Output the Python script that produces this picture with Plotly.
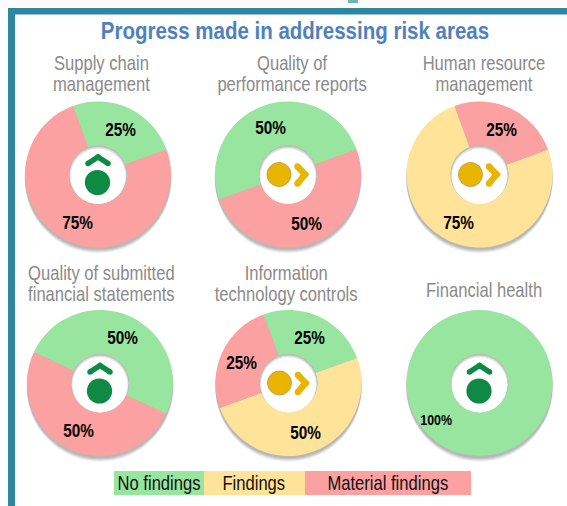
import plotly.graph_objects as go

W, H = 567, 506
TITLE = "Progress made in addressing risk areas"
names = ["Supply chain<br>management", "Quality of<br>performance reports", "Human resource<br>management",
         "Quality of submitted<br>financial statements", "Information<br>technology controls", "Financial health"]
categories = ["No findings", "Findings", "Material findings"]
no_findings = [25, 50, 0, 50, 25, 100]
findings = [0, 0, 75, 0, 50, 0]
material = [75, 50, 25, 50, 25, 0]
icons = ["up", "right", "right", "up", "right", "up"]
colors = ["#98E59F", "#FFE399", "#FBA1A1"]

centers = [(98, 174.5), (288, 174.5), (479.5, 174.5), (100, 383), (288.5, 383), (479.5, 383)]
rotations = [340, 250, 70, 295, 340, 0]
name_y = [76, 76, 76, 285.5, 285.5, 290]
name_x = [101, 292, 484, 101, 286, 484]
# label pixel positions (index by series: no findings, findings, material)
label_pos = [
    {0: (120, 129), 2: (77, 222)},
    {0: (270, 127), 2: (306, 223)},
    {2: (501, 129), 1: (458, 222)},
    {0: (122, 337), 2: (78, 430)},
    {0: (309, 337), 1: (305, 432), 2: (241, 362)},
    {0: (436, 419)},
]
legend_edges = [114, 204, 305, 471]
R, HOLE = 73, 29
NARROW = "Liberation Sans, Arial, sans-serif"
GREEN, GOLD = "#0E8A45", "#E9B500"


def px(x):
    return x / W


def py(y):
    return 1 - y / H


shapes, annotations, traces = [], [], []


def circle(cx, cy, r, fill, layer="above", opacity=1, line=None, lw=0):
    shapes.append(dict(type="circle", xref="paper", yref="paper", layer=layer, opacity=opacity,
                       x0=px(cx - r), x1=px(cx + r), y0=py(cy + r), y1=py(cy - r),
                       fillcolor=fill, line=dict(width=lw, color=line or fill)))


def rect(x0, y0, x1, y1, fill, layer="below"):
    shapes.append(dict(type="rect", xref="paper", yref="paper", layer=layer,
                       x0=px(x0), x1=px(x1), y0=py(y1), y1=py(y0),
                       fillcolor=fill, line=dict(width=0)))


def chevron(points, color, width):
    path = "M" + " L".join(f"{px(x):.5f},{py(y):.5f}" for x, y in points)
    shapes.append(dict(type="path", path=path, xref="paper", yref="paper", layer="above",
                       line=dict(color=color, width=width), fillcolor="rgba(0,0,0,0)"))
    for x, y in points:
        circle(x, y, width / 2, color)


def text(x, y, s, size, color, bold=False):
    annotations.append(dict(x=px(x), y=py(y), xref="paper", yref="paper", text=f"<b>{s}</b>" if bold else s,
                            showarrow=False, align="center", xanchor="center", yanchor="middle",
                            font=dict(family=NARROW, size=size, color=color)))


# page frame
rect(0, 0, 567, 8, "#FCFCFC")
rect(8, 8, 567, 14.5, "#2E86A0")
rect(8, 8, 15, 506, "#2E86A0")
rect(348, 0, 358, 3, "#6FB3B8")
text(295, 31, TITLE, 24.7, "#4F81BD", bold=True)

for i, (cx, cy) in enumerate(centers):
    values = [no_findings[i], findings[i], material[i]]
    dom_x = [px(cx - R), px(cx + R)]
    dom_y = [py(cy + R), py(cy - R)]
    # soft drop shadow under the ring
    for dy, grow, op in [(6, 0, .06), (5, 0, .08), (4, .3, .10), (3, .3, .13), (2, .3, .15)]:
        circle(cx, cy + dy, R + grow, "#555555", layer="below", opacity=op)
    traces.append(go.Pie(labels=categories, values=values, sort=False, direction="clockwise",
                         rotation=rotations[i], hole=HOLE / R, domain=dict(x=dom_x, y=dom_y),
                         marker=dict(colors=colors, line=dict(width=0)), textinfo="none",
                         hoverinfo="label+percent", showlegend=False))
    # inner shadow of the centre hole
    circle(cx, cy, HOLE, "#BDBDBD")
    circle(cx, cy + .8, HOLE - .6, "#DDDDDD")
    circle(cx, cy + 1.6, HOLE - 1.2, "#F4F4F4")
    circle(cx, cy + 2, HOLE - 1.6, "#FFFFFF")
    if icons[i] == "up":
        circle(cx - .5, cy + 8, 12.6, GREEN)
        chevron([(cx - 10, cy - 11), (cx, cy - 17.5), (cx + 10, cy - 11)], GREEN, 5.5)
    else:
        circle(cx - 9, cy, 12, GOLD, line="#BFA552", lw=1)
        chevron([(cx + 9.5, cy - 8), (cx + 17, cy), (cx + 9.5, cy + 9)], GOLD, 6.5)
    text(name_x[i], name_y[i], names[i], 20, "#8A8A8A")
    for series, (lx, ly) in label_pos[i].items():
        text(lx, ly, f"{values[series]}%", 15 if values[series] == 100 else 18.5, "#000000", bold=True)

for k, cat in enumerate(categories):
    rect(legend_edges[k], 471, legend_edges[k + 1], 495, colors[k])
    text((legend_edges[k] + legend_edges[k + 1]) / 2 - (.5 if k == 1 else 0), 483, cat, 20, "#111111")

# no narrow face is installed, so tighten the two-line names and condense the real text horizontally
CONDENSE = """
document.body.style.margin = "0";
document.querySelectorAll('.annotation-text').forEach(function (t) {
  t.querySelectorAll('tspan.line').forEach(function (l, n) {
    if (n > 0) { l.setAttribute('dy', '1.05em'); }
  });
  var b = t.getBBox(), c = b.x + b.width / 2;
  t.setAttribute('transform', 'translate(' + c + ' 0) scale(0.83 1) translate(' + (-c) + ' 0)');
});
"""

fig = go.Figure(traces)
fig.update_layout(width=W, height=H, margin=dict(l=0, r=0, t=0, b=0), autosize=False,
                  paper_bgcolor="white", plot_bgcolor="white", shapes=shapes, annotations=annotations)
fig.write_html("out.html", config=dict(displayModeBar=False), post_script=CONDENSE)
